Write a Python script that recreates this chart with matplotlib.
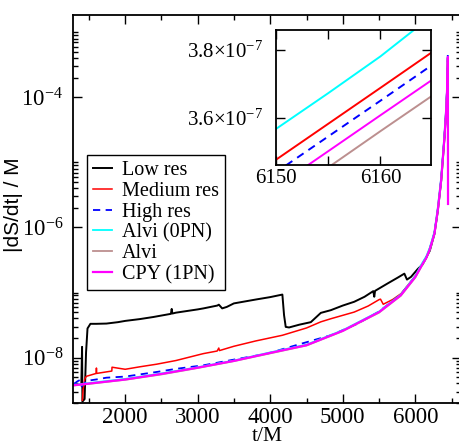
import numpy as np
import matplotlib
matplotlib.use("Agg")
import matplotlib.pyplot as plt
from matplotlib.ticker import FixedLocator, NullFormatter, FuncFormatter

plt.rcParams['font.family'] = ['Liberation Serif', 'DejaVu Serif']
plt.rcParams['mathtext.fontset'] = 'custom'
plt.rcParams['mathtext.rm'] = 'Liberation Serif'
plt.rcParams['mathtext.it'] = 'Liberation Serif:italic'

# ------------------ data ------------------
# Low res
t_low = [1395, 1405, 1410, 1440, 1460, 1480, 1520, 1600, 1741, 1900, 2000, 2200, 2387,
         2630, 2641, 2650, 2700, 3000, 3079, 3270, 3291, 3337, 3400, 3498, 3800, 4000,
         4167, 4190, 4213, 4259, 4400, 4559, 4697, 4835, 5000, 5157, 5300, 5420, 5434,
         5445, 5619, 5760, 5849, 5885, 5941, 6034, 6100, 6200, 6264, 6310, 6357, 6402,
         6426, 6440, 6448]
y_low = [4.0e-9, 1.46e-8, 2.1e-9, 2.3e-9, 1.2e-8, 2.8e-8, 3.3e-8, 3.3e-8, 3.33e-8, 3.5e-8,
         3.66e-8, 3.9e-8, 4.2e-8, 4.7e-8, 5.6e-8, 4.75e-8, 4.9e-8, 5.5e-8, 5.7e-8, 6.3e-8,
         6.5e-8, 5.7e-8, 6.0e-8, 6.8e-8, 7.8e-8, 8.5e-8, 9.3e-8, 4.5e-8, 2.96e-8, 2.9e-8,
         3.2e-8, 3.5e-8, 4.86e-8, 5.35e-8, 6.3e-8, 7.2e-8, 8.6e-8, 1.05e-7, 8.6e-8, 1.06e-7,
         1.38e-7, 1.7e-7, 1.95e-7, 1.58e-7, 1.74e-7, 2.3e-7, 2.7e-7, 4.4e-7, 8.0e-7, 1.8e-6,
         5.3e-6, 2.4e-5, 6.4e-5, 1.4e-4, 3.9e-4]

# Medium res
t_med = [1410, 1419, 1443, 1465, 1600, 1603, 1606, 1815, 1818, 2000, 2200, 2433, 2700,
         3037, 3079, 3268, 3290, 3300, 3498, 3800, 4167, 4500, 4697, 4835, 5157, 5350,
         5503, 5520, 5558, 5688, 5803, 6000, 6100, 6150, 6160, 6165, 6200, 6264, 6310,
         6357, 6402, 6426, 6440, 6448]
y_med = [2.2e-9, 3.2e-9, 4.75e-9, 5.15e-9, 5.7e-9, 6.9e-9, 5.7e-9, 6.2e-9, 7.1e-9, 6.6e-9,
         7.2e-9, 7.9e-9, 9.0e-9, 1.12e-8, 1.15e-8, 1.26e-8, 1.4e-8, 1.28e-8, 1.49e-8, 1.8e-8,
         2.2e-8, 2.85e-8, 3.54e-8, 3.95e-8, 5.0e-8, 6.2e-8, 7.8e-8, 7.9e-8, 6.6e-8, 7.8e-8,
         9.6e-8, 1.8e-7, 2.82e-7, 3.475e-7, 3.688e-7, 3.795e-7, 4.8e-7, 8.3e-7, 1.9e-6,
         5.5e-6, 2.5e-5, 6.6e-5, 1.48e-4, 4.1e-4]

# High res
t_high = [1290, 1340, 1373, 1400, 1465, 1600, 1741, 2000, 2200, 2433, 2700, 3079, 3500,
          3960, 4400, 4835, 5200, 5500, 5800, 6000, 6100, 6150, 6160, 6165, 6200, 6264,
          6310, 6357, 6402, 6426, 6440, 6449]
y_high = [3.9e-9, 4.3e-9, 4.5e-9, 3.6e-9, 4.37e-9, 4.6e-9, 4.9e-9, 5.1e-9, 5.5e-9, 6.0e-9,
          6.7e-9, 7.6e-9, 9.3e-9, 1.15e-8, 1.6e-8, 2.2e-8, 3.3e-8, 5.1e-8, 9.3e-8, 1.77e-7,
          2.78e-7, 3.438e-7, 3.65e-7, 3.757e-7, 4.7e-7, 8.2e-7, 1.88e-6, 5.5e-6, 2.5e-5,
          6.7e-5, 1.5e-4, 5.4e-4]

# Alvi (0PN)
t_alvi0 = [1280, 1500, 2000, 2500, 3000, 3500, 4000, 4500, 5000, 5500, 5800, 6000, 6100,
           6150, 6155, 6160, 6163.2, 6200, 6264, 6310, 6357, 6402, 6426, 6440, 6448]
y_alvi0 = [3.8e-9, 4.05e-9, 4.7e-9, 5.7e-9, 7.1e-9, 9.0e-9, 1.2e-8, 1.58e-8, 2.63e-8,
           5.1e-8, 9.3e-8, 1.8e-7, 2.9e-7, 3.566e-7, 3.672e-7, 3.781e-7, 3.859e-7, 4.9e-7,
           8.6e-7, 2.0e-6, 5.9e-6, 2.7e-5, 7.0e-5, 1.55e-4, 4.1e-4]

# Alvi
t_alvi = [1280, 1500, 2000, 2500, 3000, 3500, 4000, 4500, 5000, 5500, 5800, 6000, 6100,
          6150, 6155.35, 6160, 6165, 6200, 6264, 6310, 6357, 6402, 6426, 6440, 6448]
y_alvi = [3.7e-9, 3.93e-9, 4.55e-9, 5.5e-9, 6.9e-9, 8.8e-9, 1.16e-8, 1.53e-8, 2.55e-8,
          4.9e-8, 8.9e-8, 1.7e-7, 2.7e-7, 3.346e-7, 3.46e-7, 3.56e-7, 3.666e-7, 4.5e-7,
          7.9e-7, 1.8e-6, 5.2e-6, 2.4e-5, 6.3e-5, 1.4e-4, 3.8e-4]

# CPY (1PN)
t_cpy = [1280, 1500, 2000, 2500, 3000, 3500, 4000, 4500, 5000, 5500, 5800, 6000, 6100,
         6150, 6153.1, 6160, 6165, 6200, 6264, 6310, 6357, 6402, 6426, 6440, 6449, 6451]
y_cpy = [3.75e-9, 3.98e-9, 4.6e-9, 5.6e-9, 7.0e-9, 8.9e-9, 1.18e-8, 1.55e-8, 2.58e-8,
         5.0e-8, 9.1e-8, 1.74e-7, 2.75e-7, 3.394e-7, 3.46e-7, 3.607e-7, 3.713e-7, 4.65e-7,
         8.1e-7, 1.85e-6, 5.4e-6, 2.45e-5, 6.5e-5, 1.45e-4, 4.2e-4, 2.3e-6]

labels = ["Low res", "Medium res", "High res", "Alvi (0PN)", "Alvi", "CPY (1PN)"]
colors = ["black", "red", "blue", "cyan", "#bc8f8f", "magenta"]

series = [(t_low, y_low), (t_med, y_med), (t_high, y_high),
          (t_alvi0, y_alvi0), (t_alvi, y_alvi), (t_cpy, y_cpy)]
styles = ["-", "-", (0, (4, 3)), "-", "-", "-"]
widths = [1.4, 1.1, 1.3, 1.3, 1.3, 1.6]

# ------------------ figure ------------------
W, H = 459, 447
fig = plt.figure(figsize=(W / 100, H / 100), dpi=100)

def box(x0, y0, x1, y1):
    return [x0 / W, 1 - y1 / H, (x1 - x0) / W, (y1 - y0) / H]

ax = fig.add_axes(box(73, 15, 461, 403))
for (t, y), c, ls, lw, lab in zip(series, colors, styles, widths, labels):
    ax.plot(t, y, color=c, linestyle=ls, linewidth=lw, label=lab)

ax.set_yscale('log')
ax.set_xlim(1280, 6630)
ax.set_ylim(2e-9, 1.85e-3)
ax.xaxis.set_major_locator(FixedLocator([2000, 3000, 4000, 5000, 6000]))
ax.xaxis.set_minor_locator(FixedLocator([1500, 2500, 3500, 4500, 5500, 6500]))
ax.yaxis.set_major_locator(FixedLocator([1e-8, 1e-6, 1e-4]))
minors = [k * 10.0 ** e for e in (-9, -8, -6, -4) for k in range(2, 11)]
ax.yaxis.set_minor_locator(FixedLocator(minors))
ax.yaxis.set_minor_formatter(NullFormatter())
ax.yaxis.set_major_formatter(FuncFormatter(lambda v, p: r"$10^{%d}$" % round(np.log10(v))))
ax.tick_params(which='both', direction='in', top=True, right=True, labelsize=16.5)
ax.tick_params(which='major', length=6.5, width=1.0)
ax.tick_params(which='minor', length=3.5, width=1.0)
ax.tick_params(axis='y', which='major', pad=7)
ax.tick_params(axis='x', which='major', pad=3)
for s in ax.spines.values():
    s.set_linewidth(1.3)

ax.set_xlabel("t/M", fontsize=15.5, labelpad=-0.5)
fig.text(14 / W, 1 - 205 / H, "|dS/dt| / M", rotation=90, fontsize=15,
         family='Liberation Sans', ha='center', va='center')

leg = ax.legend(loc='upper left', bbox_to_anchor=(86.7 / W, 1 - 155 / H),
                bbox_transform=fig.transFigure, borderaxespad=0, fontsize=14.5,
                handlelength=0.95, handletextpad=0.5, labelspacing=0.08,
                borderpad=0.3, fancybox=False, framealpha=1, edgecolor='black')
leg.get_frame().set_linewidth(1.0)

# ------------------ inset ------------------
axi = fig.add_axes(box(275.7, 30, 430.7, 165))
for (t, y), c, ls, lw in zip(series[1:], colors[1:], styles[1:], widths[1:]):
    axi.plot(t, y, color=c, linestyle=ls, linewidth=1.4)
axi.set_xlim(6150, 6164.8)
axi.set_ylim(3.46e-7, 3.859e-7)
axi.xaxis.set_major_locator(FixedLocator([6150, 6155, 6160]))
axi.xaxis.set_major_formatter(FuncFormatter(lambda v, p: "%d" % v if v in (6150, 6160) else ""))
axi.yaxis.set_major_locator(FixedLocator([3.6e-7, 3.8e-7]))
axi.yaxis.set_major_formatter(FuncFormatter(lambda v, p: r"$%.1f{\times}10^{-7}$" % (v * 1e7)))
axi.tick_params(direction='in', top=True, right=True, labelsize=15, length=6.5, width=1.0)
axi.tick_params(axis='y', pad=9)
axi.tick_params(axis='x', pad=3)
for s in axi.spines.values():
    s.set_linewidth(1.3)

fig.savefig("out.png", dpi=100)
